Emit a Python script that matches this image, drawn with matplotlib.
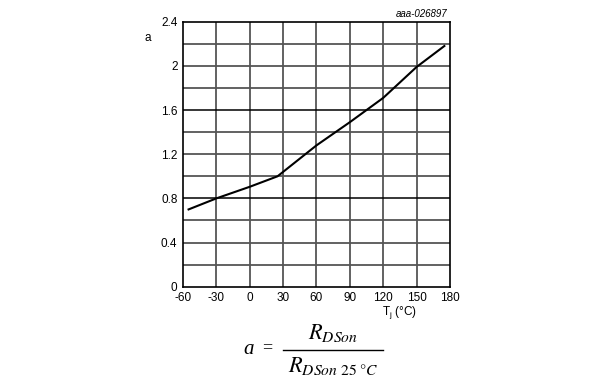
import matplotlib.pyplot as plt
from matplotlib.lines import Line2D

# curve values
temp = [-55, -30, 0, 25, 60, 90, 120, 150, 175]
ratio = [0.70, 0.80, 0.905, 1.0, 1.28, 1.49, 1.71, 1.99, 2.18]

xticks = [-60, -30, 0, 30, 60, 90, 120, 150, 180]
yticks = [0, 0.4, 0.8, 1.2, 1.6, 2, 2.4]

plt.rcParams["font.family"] = ["Liberation Sans", "DejaVu Sans"]
plt.rcParams["axes.unicode_minus"] = False

fig = plt.figure(figsize=(6.08, 3.85), dpi=100)
ax = fig.add_axes([0.301, 0.2553, 0.439, 0.6883])

# grid: gray minor lines, black every 0.8
for x in range(-30, 180, 30):
    ax.axvline(x, color="#555555", lw=1.3, zorder=1)
for i in range(1, 12):
    y = i * 0.2
    c = "black" if i % 4 == 0 else "#555555"
    ax.axhline(y, color=c, lw=1.3 if c != "black" else 1.1, zorder=1)

ax.plot(temp, ratio, color="black", lw=1.5, zorder=3)

ax.set_xlim(-60, 180)
ax.set_ylim(0, 2.4)
ax.set_xticks(xticks)
ax.set_yticks(yticks)
ax.set_yticklabels(["0", "0.4", "0.8", "1.2", "1.6", "2", "2.4"])
ax.tick_params(length=0, labelsize=8.5)
ax.tick_params(axis="x", pad=4)
ax.tick_params(axis="y", pad=4)
for s in ax.spines.values():
    s.set_linewidth(1.2)

fig.text(148 / 608, 1 - 38 / 385, "a", fontsize=8.5, ha="center", va="center")
fig.text(447 / 608, 1 - 14 / 385, "aaa-026897", fontsize=7, style="italic",
         ha="right", va="center")
fig.text(400 / 608, 1 - 312 / 385, r"T$_\mathregular{j}$ (°C)", fontsize=8.5,
         ha="center", va="center")

# formula under the chart
serif = "Liberation Serif"
fig.text(249 / 608, 1 - 349 / 385, "a", fontsize=15, family=serif,
         style="italic", ha="center", va="center")
fig.text(267 / 608, 1 - 348 / 385, "=", fontsize=13, family=serif,
         ha="center", va="center")
fig.text(333 / 608, 1 - 333 / 385, r"$R_{DSon}$", fontsize=16,
         ha="center", va="center", math_fontfamily="stix")
fig.text(333 / 608, 1 - 366 / 385, r"$R_{DSon\ 25\ °C}$", fontsize=16,
         ha="center", va="center", math_fontfamily="stix")
fig.add_artist(Line2D([283 / 608, 383 / 608], [1 - 350 / 385, 1 - 350 / 385],
                      color="black", lw=1.0, transform=fig.transFigure))

fig.savefig("out.png", dpi=100)
